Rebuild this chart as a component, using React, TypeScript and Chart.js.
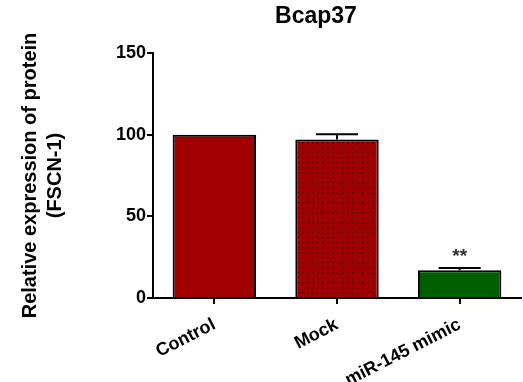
import React, { useEffect, useRef } from "react";
import { Chart, registerables } from "chart.js";

Chart.register(...registerables);

const categories = ["Control", "Mock", "miR-145 mimic"];
const values = [100, 97, 17];
const errors = [0, 3.3, 1.4];
const significance = ["", "", "**"];
const yTicks = [0, 50, 100, 150];
const chartTitle = "Bcap37";
const yTitle = ["Relative expression of protein", "(FSCN-1)"];

const FONT = "'Liberation Sans', Arial, sans-serif";

function dotPattern(bg: string, dot: string) {
  const c = document.createElement("canvas");
  c.width = 5;
  c.height = 5;
  const g = c.getContext("2d")!;
  g.fillStyle = bg;
  g.fillRect(0, 0, 5, 5);
  g.fillStyle = dot;
  g.fillRect(2, 2, 1.4, 1.4);
  return g.createPattern(c, "repeat")!;
}

const titlePlugin = {
  id: "offsetTitle",
  afterDraw(chart: any) {
    const ctx = chart.ctx;
    ctx.save();
    ctx.fillStyle = "#000";
    ctx.font = `bold 23px ${FONT}`;
    ctx.textAlign = "center";
    ctx.textBaseline = "middle";
    ctx.fillText(chartTitle, 316, 17);
    ctx.restore();
  },
};

const errorBarPlugin = {
  id: "errorBars",
  afterDatasetsDraw(chart: any) {
    const ctx = chart.ctx;
    const meta = chart.getDatasetMeta(0);
    const y = chart.scales.y;
    ctx.save();
    ctx.strokeStyle = "#000";
    ctx.lineWidth = 2;
    meta.data.forEach((bar: any, i: number) => {
      const x = bar.x;
      const top = y.getPixelForValue(values[i]);
      const errTop = y.getPixelForValue(values[i] + errors[i]);
      const half = 21;
      if (errors[i] > 0) {
        ctx.beginPath();
        ctx.moveTo(x, top);
        ctx.lineTo(x, errTop);
        ctx.moveTo(x - half, errTop);
        ctx.lineTo(x + half, errTop);
        ctx.stroke();
      }
      if (significance[i]) {
        ctx.fillStyle = "#333";
        ctx.font = `bold 19px ${FONT}`;
        ctx.textAlign = "center";
        ctx.textBaseline = "alphabetic";
        ctx.fillText(significance[i], x, errTop - 6);
      }
    });
    ctx.restore();
  },
};

export default function App() {
  const ref = useRef<HTMLCanvasElement>(null);
  useEffect(() => {
    const mockPattern = dotPattern("#a00000", "#400000");
    const chart = new Chart(ref.current!, {
      type: "bar",
      data: {
        labels: categories,
        datasets: [
          {
            data: values,
            backgroundColor: ["#a00000", mockPattern as any, "#005f00"],
            borderColor: "#000",
            borderWidth: 2,
            borderSkipped: "bottom",
            categoryPercentage: 0.68,
            barPercentage: 1,
          },
        ],
      },
      options: {
        animation: false,
        responsive: false,
        maintainAspectRatio: false,
        layout: { padding: { left: 0, right: 2, top: 53, bottom: 0 } },
        plugins: {
          legend: { display: false },
          tooltip: { enabled: false },
          title: { display: false },
        },
        scales: {
          x: {
            offset: true,
            grid: {
              offset: false,
              drawOnChartArea: false,
              drawTicks: true,
              tickLength: 6,
              color: "#000",
              lineWidth: 2,
            },
            border: { color: "#000", width: 2 },
            ticks: {
              color: "#000",
              maxRotation: 27,
              minRotation: 27,
              padding: 10,
              font: { family: FONT, size: 18, weight: "bold" },
            },
            afterFit(scale: any) {
              scale.height = 84;
            },
          },
          y: {
            min: 0,
            max: 150,
            afterBuildTicks(scale: any) {
              scale.ticks = yTicks.map((v) => ({ value: v }));
            },
            grid: {
              drawOnChartArea: false,
              drawTicks: true,
              tickLength: 6,
              color: "#000",
              lineWidth: 2,
            },
            border: { color: "#000", width: 2 },
            ticks: {
              color: "#000",
              padding: 1,
              font: { family: FONT, size: 18, weight: "bold" },
            },
            title: {
              display: true,
              text: yTitle,
              color: "#000",
              padding: { top: 18, bottom: 0 },
              font: { family: FONT, size: 20, weight: "bold", lineHeight: 1.25 },
            },
            afterFit(scale: any) {
              scale.width = 153;
            },
          },
        },
      },
      plugins: [errorBarPlugin, titlePlugin],
    });
    return () => chart.destroy();
  }, []);
  return (
    <div style={{ position: "fixed", left: 0, top: 0, width: 523, height: 382, background: "#fff" }}>
      <canvas ref={ref} width={523} height={382} style={{ display: "block" }} />
    </div>
  );
}
